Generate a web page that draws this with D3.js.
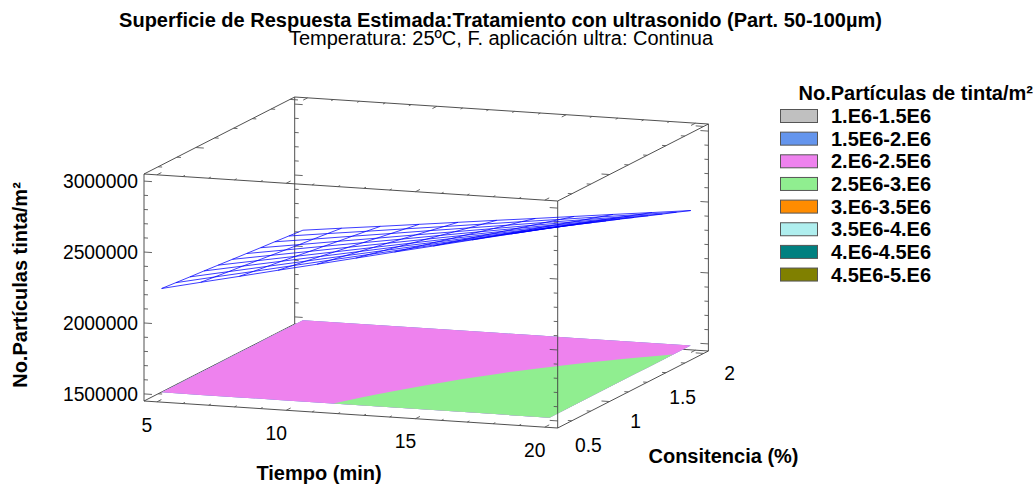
<!DOCTYPE html>
<html>
<head>
<meta charset="utf-8">
<style>
  body { margin: 0; background: #fff; }
  text { font-family: "Liberation Sans", Arial, sans-serif; fill: #000; }
</style>
<script src="https://cdn.jsdelivr.net/npm/d3@7"></script>
</head>
<body>
<svg id="chart" width="1036" height="484"></svg>
<script>
const tiempoValues = [5, 6.5, 8, 9.5, 11, 12.5, 14, 15.5, 17, 18.5, 20];
const consistenciaValues = [0.5, 0.65, 0.8, 0.95, 1.1, 1.25, 1.4, 1.55, 1.7, 1.85, 2];
// estimated particles per m2, in thousands: one row per consistencia value
const particleRows = [
    [2232, 2293, 2353, 2414, 2474, 2535, 2596, 2656, 2717, 2777, 2838],
    [2222, 2280, 2337, 2395, 2453, 2511, 2568, 2626, 2684, 2741, 2799],
    [2212, 2267, 2322, 2377, 2432, 2487, 2541, 2596, 2651, 2706, 2761],
    [2203, 2255, 2307, 2359, 2411, 2463, 2514, 2566, 2618, 2670, 2722],
    [2193, 2242, 2291, 2340, 2389, 2438, 2487, 2536, 2585, 2634, 2683],
    [2183, 2229, 2275, 2322, 2368, 2414, 2460, 2506, 2553, 2599, 2645],
    [2173, 2216, 2260, 2303, 2346, 2390, 2433, 2476, 2519, 2563, 2606],
    [2163, 2203, 2244, 2284, 2325, 2365, 2405, 2446, 2486, 2527, 2567],
    [2154, 2191, 2229, 2266, 2304, 2341, 2378, 2416, 2453, 2491, 2528],
    [2144, 2179, 2213, 2248, 2282, 2317, 2352, 2386, 2421, 2455, 2490],
    [2134, 2166, 2197, 2229, 2261, 2293, 2324, 2356, 2388, 2419, 2451]
];
const xTickLabels = [5, 10, 15, 20];
const cTickLabels = [0.5, 1, 1.5, 2];
const zTickLabels = [1500000, 2000000, 2500000, 3000000];
const xMinorTicks = [5, 6, 7, 8, 9, 10, 11, 12, 13, 14, 15, 16, 17, 18, 19, 20];
const cMinorTicks = [0.6, 0.8, 1, 1.2, 1.4, 1.6, 1.8, 2];
const zMinorTicks = [1500000, 1600000, 1700000, 1800000, 1900000, 2000000, 2100000, 2200000,
    2300000, 2400000, 2500000, 2600000, 2700000, 2800000, 2900000, 3000000];
const legendLabels = ["1.E6-1.5E6", "1.5E6-2.E6", "2.E6-2.5E6", "2.5E6-3.E6",
    "3.E6-3.5E6", "3.5E6-4.E6", "4.E6-4.5E6", "4.5E6-5.E6"];
const legendLevels = [1000, 1500, 2000, 2500, 3000, 3500, 4000, 4500];
const legendColors = ["#c0c0c0", "#6495ed", "#ee82ee", "#90ee90",
    "#ff8c00", "#afeeee", "#008080", "#808000"];

const svg = d3.select("#chart");
const origin = {x: 144, y: 401};
const xDomain = [4.5, 20.5], cDomain = [0.45, 2.05], zDomain = [1450000, 3050000];
const floorLevel = 1500000;

// oblique projection, each data axis gets a screen vector
let xToPx = d3.scaleLinear().domain(xDomain).range([0, 413.7]),
    xToPy = d3.scaleLinear().domain(xDomain).range([0, 27]),
    cToPx = d3.scaleLinear().domain(cDomain).range([0, 150.7]),
    cToPy = d3.scaleLinear().domain(cDomain).range([0, -77]),
    zToPy = d3.scaleLinear().domain(zDomain).range([0, -227]);

function project(x, c, z) {
    return [origin.x + xToPx(x) + cToPx(c), origin.y + xToPy(x) + cToPy(c) + zToPy(z)];
}
const pathLine = d3.line();

function edge(layer, a, b) {
    layer.append("path")
        .attr("d", pathLine([project(...a), project(...b)]))
        .attr("fill", "none")
        .attr("stroke", "#3c3c3c")
        .attr("stroke-width", 0.9);
}
// tick drawn in screen space from a point on the axis, in the direction of dir
function tick(layer, p, dir, len) {
    let s = project(...p);
    layer.append("line")
        .attr("x1", s[0]).attr("y1", s[1])
        .attr("x2", s[0] + dir[0] * len).attr("y2", s[1] + dir[1] * len)
        .attr("stroke", "#555")
        .attr("stroke-width", 0.9);
}
const alongX = [0.998, 0.065], alongC = [0.89, -0.455];

function xTicks(layer, c, z, sign) {
    xMinorTicks.forEach(d => tick(layer, [d, c, z], [alongC[0] * sign, alongC[1] * sign],
        xTickLabels.includes(d) ? 5 : 2.5));
}
function cTicks(layer, x, z, sign) {
    cMinorTicks.forEach(d => tick(layer, [x, d, z], [alongX[0] * sign, alongX[1] * sign],
        cTickLabels.includes(d) ? 8 : 4));
}
function zTicks(layer, x, c, sign) {
    zMinorTicks.forEach(d => tick(layer, [x, c, d], [alongX[0] * sign, alongX[1] * sign],
        zTickLabels.includes(d) ? 8 : 4));
}

// back part of the box, the floor contours paint over it
let back = svg.append("g");
let [x0, x1] = xDomain, [c0, c1] = cDomain, [z0, z1] = zDomain;
edge(back, [x0, c0, z0], [x1, c0, z0]);
edge(back, [x0, c0, z0], [x0, c1, z0]);
edge(back, [x1, c0, z0], [x1, c1, z0]);
edge(back, [x0, c1, z0], [x1, c1, z0]);
edge(back, [x0, c0, z1], [x1, c0, z1]);
edge(back, [x0, c1, z1], [x1, c1, z1]);
edge(back, [x0, c0, z1], [x0, c1, z1]);
edge(back, [x1, c0, z1], [x1, c1, z1]);
edge(back, [x0, c0, z0], [x0, c0, z1]);
edge(back, [x0, c1, z0], [x0, c1, z1]);
edge(back, [x1, c1, z0], [x1, c1, z1]);
xTicks(back, c0, z0, 1);
xTicks(back, c1, z0, -1);
xTicks(back, c0, z1, 1);
xTicks(back, c1, z1, -1);
cTicks(back, x0, z0, 1);
cTicks(back, x1, z0, -1);
cTicks(back, x0, z1, 1);
cTicks(back, x1, z1, -1);
zTicks(back, x0, c0, 1);
zTicks(back, x0, c1, 1);
zTicks(back, x1, c1, -1);

// filled contours on the floor plane
const nx = tiempoValues.length, nc = consistenciaValues.length;
const gridValues = [].concat(...particleRows);
const contours = d3.contours().size([nx, nc]).thresholds(legendLevels)(gridValues);
let gridToX = d3.scaleLinear().domain([0.5, nx - 0.5]).range([tiempoValues[0], tiempoValues[nx - 1]]).clamp(true),
    gridToC = d3.scaleLinear().domain([0.5, nc - 0.5]).range([consistenciaValues[0], consistenciaValues[nc - 1]]).clamp(true);

svg.append("g")
    .selectAll("path")
    .data(contours.filter(d => d.coordinates.length))
    .enter().append("path")
    .attr("fill", d => legendColors[legendLevels.indexOf(d.value)])
    .attr("d", d => d.coordinates.map(poly => poly.map(ring =>
        pathLine(ring.map(g => project(gridToX(g[0]), gridToC(g[1]), floorLevel))) + "Z"
    ).join("")).join(""));

// front right upright stays visible over the surface
let front = svg.append("g");
edge(front, [x1, c0, z0], [x1, c0, z1]);
zTicks(front, x1, c0, -1);

// wireframe of the estimated surface
let mesh = svg.append("g")
    .attr("fill", "none")
    .attr("stroke", "#0000ff")
    .attr("stroke-width", 0.85)
    .attr("stroke-opacity", 0.9);
particleRows.forEach((row, j) => {
    mesh.append("path").attr("d", pathLine(row.map((v, i) =>
        project(tiempoValues[i], consistenciaValues[j], v * 1000))));
});
tiempoValues.forEach((t, i) => {
    mesh.append("path").attr("d", pathLine(particleRows.map((row, j) =>
        project(t, consistenciaValues[j], row[i] * 1000))));
});

// axis labels
const tickFont = 19.3;
svg.append("g").selectAll("text").data(xTickLabels).enter().append("text")
    .attr("x", d => project(d, c0, z0)[0] - 10)
    .attr("y", d => project(d, c0, z0)[1] + 23)
    .attr("dy", "0.35em")
    .attr("text-anchor", "middle")
    .style("font-size", tickFont + "px")
    .text(d => d);
svg.append("g").selectAll("text").data(cTickLabels).enter().append("text")
    .attr("x", d => project(x1, d, z0)[0] + 26)
    .attr("y", d => project(x1, d, z0)[1] + 20)
    .attr("dy", "0.35em")
    .attr("text-anchor", "middle")
    .style("font-size", tickFont + "px")
    .text(d => d);
svg.append("g").selectAll("text").data(zTickLabels).enter().append("text")
    .attr("x", 138)
    .attr("y", d => project(x0, c0, d)[1])
    .attr("dy", "0.35em")
    .attr("text-anchor", "end")
    .style("font-size", tickFont + "px")
    .text(d => d);

function label(x, y, str, size, bold, anchor) {
    return svg.append("text")
        .attr("x", x).attr("y", y)
        .attr("dy", "0.35em")
        .attr("text-anchor", anchor || "middle")
        .style("font-size", size + "px")
        .style("font-weight", bold ? "bold" : "normal")
        .text(str);
}
label(500.5, 20, "Superficie de Respuesta Estimada:Tratamiento con ultrasonido (Part. 50-100µm)", 20, true);
label(501, 38, "Temperatura: 25ºC, F. aplicación ultra: Continua", 20, false);
label(319, 473, "Tiempo (min)", 20, true);
label(723.5, 456, "Consitencia (%)", 20, true);
label(0, 0, "No.Partículas tinta/m²", 20, true)
    .attr("transform", "translate(20,285) rotate(-90)");

// legend
label(1033, 93, "No.Partículas de tinta/m²", 20, true, "end");
let legend = svg.append("g").selectAll("g").data(legendLabels).enter().append("g")
    .attr("transform", (d, i) => "translate(780," + (109 + i * 22.65) + ")");
legend.append("rect")
    .attr("x", 0.5).attr("y", 0.5)
    .attr("width", 37).attr("height", 13)
    .attr("fill", (d, i) => legendColors[i])
    .attr("stroke", "#555")
    .attr("stroke-width", 1);
legend.append("text")
    .attr("x", 51).attr("y", 7)
    .attr("dy", "0.35em")
    .style("font-size", "20px")
    .style("font-weight", "bold")
    .text(d => d);
</script>
</body>
</html>
